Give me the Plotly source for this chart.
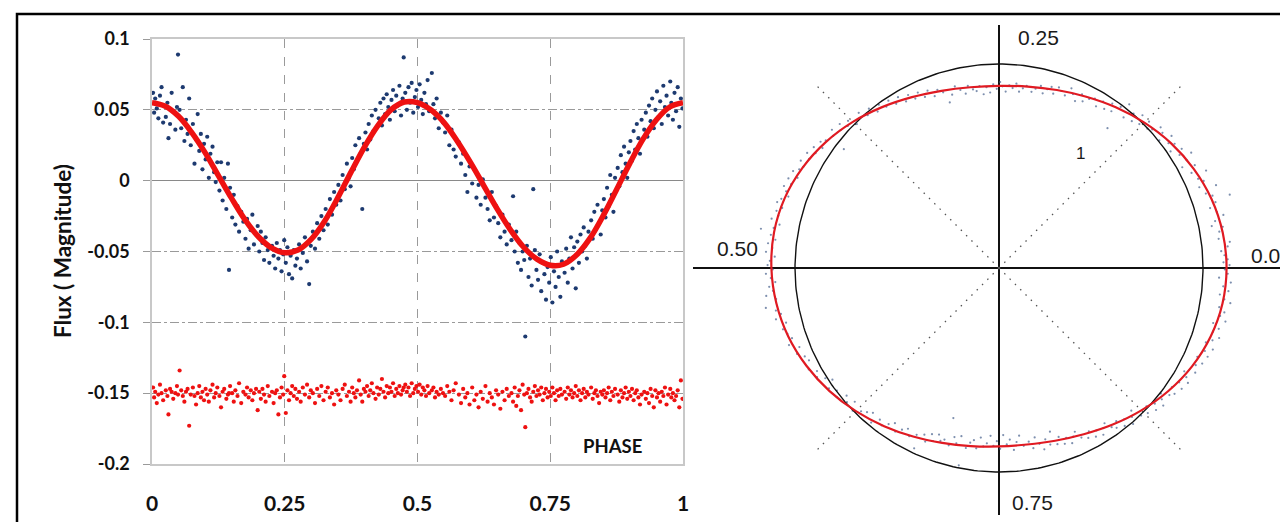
import numpy as np
import plotly.graph_objects as go

# ---------------- data ----------------
PHASE = [
    0.002, 0.004, 0.006, 0.009, 0.012, 0.015, 0.018, 0.021, 0.026, 0.029, 0.031, 0.034, 0.037, 0.040, 0.044, 0.047, 0.049,
    0.052, 0.055, 0.058, 0.061, 0.064, 0.067, 0.070, 0.073, 0.077, 0.080, 0.083, 0.086, 0.089, 0.092, 0.095, 0.098,
    0.101, 0.104, 0.107, 0.110, 0.114, 0.117, 0.120, 0.123, 0.127, 0.130, 0.133, 0.136, 0.140, 0.143, 0.145, 0.147,
    0.151, 0.154, 0.157, 0.161, 0.164, 0.168, 0.172, 0.176, 0.179, 0.182, 0.186, 0.189, 0.192, 0.196, 0.199,
    0.202, 0.205, 0.208, 0.211, 0.214, 0.218, 0.221, 0.226, 0.229, 0.232, 0.235, 0.238, 0.241, 0.244, 0.247, 0.249,
    0.252, 0.255, 0.258, 0.261, 0.264, 0.267, 0.270, 0.273, 0.277, 0.280, 0.284, 0.288, 0.292, 0.296, 0.299,
    0.303, 0.307, 0.311, 0.315, 0.319, 0.323, 0.327, 0.331, 0.335, 0.339, 0.343, 0.347, 0.351, 0.355, 0.359, 0.363,
    0.367, 0.371, 0.374, 0.377, 0.380, 0.383, 0.386, 0.390, 0.393, 0.396, 0.399, 0.402, 0.405, 0.408, 0.411, 0.414,
    0.417, 0.421, 0.424, 0.427, 0.430, 0.433, 0.436, 0.439, 0.442, 0.445, 0.448, 0.451, 0.454, 0.457, 0.460, 0.463,
    0.466, 0.469, 0.472, 0.474, 0.477, 0.480, 0.483, 0.486, 0.489, 0.492, 0.495, 0.498, 0.501, 0.504, 0.507, 0.510,
    0.513, 0.516, 0.519, 0.522, 0.527, 0.530, 0.533, 0.536, 0.540, 0.544, 0.548, 0.552, 0.556, 0.560, 0.564, 0.568,
    0.572, 0.578, 0.582, 0.586, 0.590, 0.594, 0.598, 0.603, 0.607, 0.611, 0.615, 0.619, 0.623, 0.628, 0.632, 0.636,
    0.640, 0.644, 0.648, 0.652, 0.656, 0.660, 0.664, 0.668, 0.672, 0.677, 0.680, 0.683, 0.686, 0.689, 0.692, 0.695,
    0.698, 0.701, 0.703, 0.706, 0.709, 0.712, 0.715, 0.718, 0.721, 0.724, 0.727, 0.730, 0.733, 0.736, 0.739, 0.742,
    0.745, 0.748, 0.751, 0.754, 0.757, 0.760, 0.763, 0.766, 0.769, 0.772, 0.777, 0.780, 0.783, 0.786, 0.789, 0.792,
    0.795, 0.798, 0.801, 0.804, 0.807, 0.810, 0.813, 0.816, 0.819, 0.822, 0.827, 0.830, 0.833, 0.836, 0.839, 0.842,
    0.845, 0.848, 0.851, 0.854, 0.857, 0.860, 0.863, 0.866, 0.869, 0.872, 0.877, 0.880, 0.883, 0.886, 0.889, 0.892,
    0.895, 0.898, 0.901, 0.904, 0.907, 0.910, 0.913, 0.916, 0.919, 0.922, 0.927, 0.930, 0.933, 0.936, 0.939, 0.942,
    0.945, 0.948, 0.951, 0.954, 0.957, 0.960, 0.963, 0.966, 0.969, 0.972, 0.976, 0.978, 0.981, 0.984, 0.987, 0.990,
    0.993, 0.996, 0.999,
]

MAG = [
    0.062, 0.048, 0.058, 0.051, 0.044, 0.060, 0.066, 0.041, 0.045, 0.055, 0.030, 0.040, 0.062, 0.049, 0.036, 0.052, 0.089,
    0.050, 0.037, 0.066, 0.028, 0.043, 0.033, 0.058, 0.025, 0.040, 0.012, 0.029, 0.047, 0.021, 0.033, 0.008, 0.026,
    0.015, 0.031, 0.002, 0.019, 0.024, 0.006, -0.001, 0.013, -0.007, 0.013, -0.014, 0.002, -0.020, 0.012, -0.063, -0.005,
    -0.026, -0.010, -0.031, -0.018, -0.036, -0.022, -0.029, -0.041, -0.027, -0.048, -0.035, -0.024, -0.045, -0.038, -0.032,
    -0.050, -0.036, -0.044, -0.056, -0.040, -0.049, -0.058, -0.046, -0.053, -0.062, -0.044, -0.055, -0.049, -0.064, -0.052, -0.042,
    -0.058, -0.047, -0.066, -0.053, -0.069, -0.049, -0.060, -0.055, -0.045, -0.062, -0.051, -0.040, -0.057, -0.073, -0.046,
    -0.036, -0.048, -0.030, -0.041, -0.025, -0.035, -0.020, -0.031, -0.013, -0.024, -0.008, -0.017, -0.003, -0.014, 0.004, -0.006,
    0.012, 0.002, -0.004, 0.016, 0.008, 0.025, 0.014, 0.030, 0.019, -0.020, 0.026, 0.034, 0.022, 0.040, 0.029, 0.046,
    0.035, 0.050, 0.038, 0.044, 0.055, 0.039, 0.058, 0.047, 0.061, 0.052, 0.043, 0.057, 0.064, 0.049, 0.060, 0.053,
    0.067, 0.046, 0.058, 0.087, 0.062, 0.050, 0.066, 0.055, 0.069, 0.048, 0.059, 0.064, 0.052, 0.068, 0.057, 0.047,
    0.062, 0.054, 0.071, 0.049, 0.076, 0.054, 0.044, 0.058, 0.037, 0.048, 0.041, 0.034, 0.046, 0.025, 0.036, 0.022,
    0.017, 0.027, 0.012, 0.019, 0.004, -0.008, 0.010, -0.002, 0.008, -0.012, -0.003, -0.017, 0.001, -0.012, -0.020, -0.028,
    -0.008, -0.026, -0.018, -0.030, -0.040, -0.024, -0.036, -0.045, -0.031, -0.042, -0.011, -0.050, -0.036, -0.058, -0.044, -0.063,
    -0.050, -0.056, -0.110, -0.046, -0.068, -0.055, -0.074, -0.006, -0.049, -0.063, -0.070, -0.052, -0.078, -0.058, -0.066, -0.084,
    -0.061, -0.072, -0.054, -0.086, -0.064, -0.075, -0.050, -0.068, -0.082, -0.057, -0.065, -0.048, -0.072, -0.055, -0.040, -0.062,
    -0.047, -0.076, -0.043, -0.058, -0.038, -0.050, -0.033, -0.046, -0.055, -0.036, -0.028, -0.041, -0.022, -0.034, -0.017, -0.030,
    -0.038, -0.021, -0.013, -0.026, -0.005, -0.018, 0.004, -0.010, -0.022, 0.002, 0.009, -0.004, 0.018, 0.006, 0.024, 0.012,
    0.002, 0.020, 0.028, 0.014, 0.035, 0.022, 0.040, 0.030, 0.019, 0.043, 0.036, 0.048, 0.031, 0.053, 0.042, 0.058,
    0.037, 0.050, 0.063, 0.045, 0.056, 0.040, 0.067, 0.052, 0.060, 0.046, 0.070, 0.055, 0.043, 0.062, 0.049, 0.066,
    0.038, 0.058, 0.051,
]

RESID = [
    -0.146, -0.153, -0.149, -0.157, -0.151, -0.144, -0.150, -0.155, -0.148, -0.152, -0.165, -0.147, -0.149, -0.154, -0.150, -0.145, -0.151,
    -0.134, -0.148, -0.152, -0.156, -0.149, -0.147, -0.173, -0.151, -0.146, -0.152, -0.158, -0.150, -0.145, -0.153, -0.149, -0.155,
    -0.147, -0.151, -0.156, -0.148, -0.144, -0.153, -0.150, -0.146, -0.152, -0.160, -0.149, -0.147, -0.154, -0.151, -0.150, -0.145,
    -0.150, -0.156, -0.148, -0.152, -0.143, -0.157, -0.149, -0.151, -0.146, -0.153, -0.148, -0.155, -0.150, -0.147, -0.162,
    -0.149, -0.154, -0.147, -0.151, -0.156, -0.145, -0.152, -0.149, -0.157, -0.150, -0.148, -0.165, -0.153, -0.146, -0.151, -0.138,
    -0.164, -0.148, -0.155, -0.150, -0.145, -0.152, -0.147, -0.154, -0.149, -0.156, -0.146, -0.151, -0.144, -0.153, -0.148,
    -0.150, -0.157, -0.147, -0.152, -0.145, -0.155, -0.149, -0.146, -0.153, -0.150, -0.158, -0.148, -0.151, -0.155, -0.147, -0.144,
    -0.152, -0.149, -0.156, -0.146, -0.150, -0.153, -0.148, -0.141, -0.151, -0.156, -0.147, -0.149, -0.145, -0.152, -0.148, -0.143,
    -0.150, -0.154, -0.146, -0.151, -0.147, -0.140, -0.149, -0.153, -0.145, -0.150, -0.146, -0.149, -0.143, -0.152, -0.147, -0.150,
    -0.145, -0.151, -0.148, -0.146, -0.144, -0.149, -0.146, -0.152, -0.143, -0.150, -0.147, -0.145, -0.149, -0.144, -0.151, -0.146,
    -0.148, -0.152, -0.145, -0.150, -0.148, -0.146, -0.153, -0.149, -0.151, -0.147, -0.150, -0.152, -0.145, -0.149, -0.155, -0.148,
    -0.143, -0.151, -0.157, -0.147, -0.153, -0.150, -0.158, -0.146, -0.155, -0.151, -0.160, -0.149, -0.154, -0.145, -0.156, -0.150,
    -0.153, -0.158, -0.148, -0.151, -0.161, -0.149, -0.155, -0.147, -0.152, -0.150, -0.156, -0.146, -0.159, -0.152, -0.148, -0.162,
    -0.144, -0.151, -0.174, -0.150, -0.147, -0.153, -0.156, -0.149, -0.145, -0.152, -0.148, -0.151, -0.146, -0.155, -0.150, -0.147,
    -0.153, -0.149, -0.152, -0.146, -0.150, -0.155, -0.148, -0.152, -0.147, -0.151, -0.149, -0.154, -0.146, -0.151, -0.148, -0.153,
    -0.150, -0.145, -0.152, -0.148, -0.155, -0.150, -0.147, -0.153, -0.149, -0.151, -0.146, -0.154, -0.150, -0.148, -0.152, -0.157,
    -0.149, -0.151, -0.148, -0.153, -0.150, -0.146, -0.155, -0.149, -0.152, -0.147, -0.151, -0.156, -0.148, -0.153, -0.150, -0.146,
    -0.154, -0.149, -0.152, -0.147, -0.155, -0.150, -0.148, -0.153, -0.158, -0.151, -0.149, -0.154, -0.150, -0.157, -0.147, -0.152,
    -0.160, -0.148, -0.153, -0.150, -0.156, -0.149, -0.152, -0.146, -0.158, -0.151, -0.147, -0.153, -0.150, -0.155, -0.152, -0.148,
    -0.160, -0.141, -0.154,
]

FIT_PHASE = [
    0.000, 0.025, 0.050, 0.075, 0.100, 0.125, 0.150, 0.175, 0.200, 0.225, 0.250, 0.275, 0.300, 0.325,
    0.350, 0.375, 0.400, 0.425, 0.450, 0.475, 0.500, 0.525, 0.550, 0.575, 0.600, 0.625, 0.650, 0.675,
    0.700, 0.725, 0.750, 0.775, 0.800, 0.825, 0.850, 0.875, 0.900, 0.925, 0.950, 0.975, 1.000,
]
FIT_MAG = [
    0.0550, 0.0525, 0.0454, 0.0339, 0.0198, 0.0036, -0.0125, -0.0275, -0.0394, -0.0474, -0.0509, -0.0490, -0.0413, -0.0286,
    -0.0120, 0.0062, 0.0237, 0.0387, 0.0500, 0.0555, 0.0551, 0.0500, 0.0410, 0.0278, 0.0127, -0.0036, -0.0199, -0.0347,
    -0.0470, -0.0554, -0.0597, -0.0590, -0.0523, -0.0406, -0.0245, -0.0062, 0.0124, 0.0295, 0.0430, 0.0520, 0.0550,
]

X_TICKS = [0, 0.25, 0.5, 0.75, 1]
X_TICK_TEXT = ["0", "0.25", "0.5", "0.75", "1"]
Y_TICKS = [0.1, 0.05, 0, -0.05, -0.1, -0.15, -0.2]
Y_TICK_TEXT = ["0.1", "0.05", "0", "-0.05", "-0.1", "-0.15", "-0.2"]

POLAR_LABELS = ["0.00", "0.25", "0.50", "0.75"]
SPOKE_ANGLES_DEG = [45, 135, 225, 315]
SPOKE_LENGTH = 1.27     # radius of the dotted diagonals (unit circle = 1)
POLAR_SCALE = 2.1       # radius = 1 + POLAR_SCALE * magnitude

# ---------------- figure ----------------
W, H = 1280, 522
fig = go.Figure()

BLUE = "#1d3a70"
RED = "#ee1111"

# Left panel: light curve
fig.add_trace(go.Scatter(x=PHASE, y=MAG, mode="markers",
                         marker=dict(size=4.2, color=BLUE), xaxis="x", yaxis="y", showlegend=False))
fig.add_trace(go.Scatter(x=PHASE, y=RESID, mode="markers",
                         marker=dict(size=4.2, color=RED), xaxis="x", yaxis="y", showlegend=False))
fig.add_trace(go.Scatter(x=FIT_PHASE, y=FIT_MAG, mode="lines", line=dict(color=RED, width=5.5, shape="spline"),
                         xaxis="x", yaxis="y", showlegend=False))

# Right panel: polar representation in a cartesian frame
ph = np.array(PHASE)
mg = np.array(MAG)
r_pts = 1 + POLAR_SCALE * mg
th_pts = 2 * np.pi * ph
fig.add_trace(go.Scatter(x=r_pts * np.cos(th_pts), y=r_pts * np.sin(th_pts), mode="markers",
                         marker=dict(size=2.2, color="rgba(70,95,140,0.7)"),
                         xaxis="x2", yaxis="y2", showlegend=False))

# dotted diagonals
for a in SPOKE_ANGLES_DEG:
    ar = np.deg2rad(a)
    fig.add_trace(go.Scatter(x=[0, SPOKE_LENGTH * np.cos(ar)], y=[0, SPOKE_LENGTH * np.sin(ar)], mode="lines",
                             line=dict(color="#555555", width=1.3, dash="1.5px,6px"),
                             xaxis="x2", yaxis="y2", showlegend=False))

# unit reference circle
t = np.linspace(0, 2 * np.pi, 361)
fig.add_trace(go.Scatter(x=np.cos(t), y=np.sin(t), mode="lines", line=dict(color="#111111", width=1.4),
                         xaxis="x2", yaxis="y2", showlegend=False))

# fitted curve in polar form
fp = np.array(FIT_PHASE)
fr = 1 + POLAR_SCALE * np.array(FIT_MAG)
fig.add_trace(go.Scatter(x=fr * np.cos(2 * np.pi * fp), y=fr * np.sin(2 * np.pi * fp), mode="lines",
                         line=dict(color="#e01a22", width=2.2, shape="spline"),
                         xaxis="x2", yaxis="y2", showlegend=False))

xtick_font = dict(family="Lato", size=21, color="#111111", weight="bold")
ytick_font = dict(family="Lato", size=18, color="#111111", weight="bold")


def px_x(p):
    return p / W


def px_y(p):
    return 1 - p / H


fig.update_layout(
    width=W, height=H,
    margin=dict(l=0, r=0, t=0, b=0, pad=0),
    paper_bgcolor="white", plot_bgcolor="white",
    xaxis=dict(domain=[px_x(152), px_x(683)], range=[0, 1], anchor="y", automargin=False,
               tickmode="array", tickvals=X_TICKS, ticktext=X_TICK_TEXT, tickfont=xtick_font,
               showgrid=True, gridcolor="#9a9a9a", gridwidth=1, griddash="dash",
               showline=True, linecolor="#c8c8c8", linewidth=1.5, mirror=True,
               zeroline=False, ticks="", ticklabelstandoff=20),
    yaxis=dict(domain=[px_y(464), px_y(39)], range=[-0.2, 0.1], anchor="x", automargin=False,
               tickmode="array", tickvals=Y_TICKS, ticktext=Y_TICK_TEXT, tickfont=ytick_font,
               showgrid=True, gridcolor="#9a9a9a", gridwidth=1, griddash="dashdot",
               showline=True, linecolor="#c8c8c8", linewidth=1.5, mirror=True,
               zeroline=True, zerolinecolor="#8a8a8a", zerolinewidth=1.2,
               ticks="outside", ticklen=7, tickcolor="#9a9a9a", ticklabelstandoff=10),
    xaxis2=dict(domain=[px_x(693), 1.0], range=[(693 - 999) / 204, (1280 - 999) / 204], anchor="y2",
                automargin=False, showgrid=False, showticklabels=False, showline=False, ticks="",
                zeroline=True, zerolinecolor="#111111", zerolinewidth=2),
    yaxis2=dict(domain=[px_y(515), px_y(25)], range=[(268 - 515) / 204, (268 - 25) / 204], anchor="x2",
                automargin=False, showgrid=False, showticklabels=False, showline=False, ticks="",
                zeroline=True, zerolinecolor="#111111", zerolinewidth=2),
)

# outer frame
fig.add_shape(type="rect", xref="paper", yref="paper", x0=px_x(17), x1=1.02, y0=-0.02, y1=px_y(14),
              line=dict(color="black", width=2.5), fillcolor="rgba(0,0,0,0)", layer="above")


def label(text, x, y, font, xanchor="center"):
    fig.add_annotation(text=text, xref="paper", yref="paper", x=px_x(x), y=px_y(y),
                       xanchor=xanchor, yanchor="middle", showarrow=False, font=font)


# y-axis title and PHASE label
fig.add_annotation(text="Flux ( Magnitude)", xref="paper", yref="paper", x=px_x(62), y=px_y(251),
                   xanchor="center", yanchor="middle", textangle=-90, showarrow=False,
                   font=dict(family="Lato", size=22.5, color="#111111", weight="bold"))
label("PHASE", 612, 446, dict(family="Lato", size=18.5, color="#111111", weight="bold"))

# polar labels
lab_font = dict(family="Liberation Sans", size=21, color="#1a1a1a")
label(POLAR_LABELS[0], 1249, 255, lab_font, xanchor="left")
label(POLAR_LABELS[1], 1038, 37, lab_font)
label(POLAR_LABELS[2], 737, 248, lab_font)
label(POLAR_LABELS[3], 1032, 502, lab_font)
label("1", 1080, 153, dict(family="Liberation Sans", size=17, color="#1a1a1a"))

fig.write_html("out.html", config={"displayModeBar": False},
               post_script="document.body.style.margin='0px';document.body.style.overflow='hidden';")
